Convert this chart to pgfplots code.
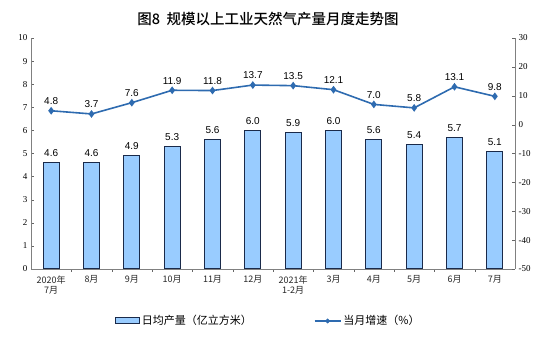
\documentclass[border=0pt]{standalone}
\usepackage{pgfplots}
\pgfplotsset{compat=1.18}
\usepackage{fontspec}
\setmainfont{Liberation Serif}
\newfontfamily\cjk{Noto Sans CJK SC}
\newfontfamily\cjkb{Noto Sans CJK SC Medium}
\newfontfamily\arial{Liberation Sans}
\definecolor{barfill}{HTML}{99CCFF}
\definecolor{bardraw}{HTML}{1A2A4A}
\definecolor{linec}{HTML}{2E6BB0}
\begin{document}
\begin{tikzpicture}[x=1pt,y=1pt]
\path[use as bounding box] (0,0) rectangle (554,353);
\node[font=\cjkb\fontsize{14.5}{16}\selectfont] at (268,334) {图8\ \ 规模以上工业天然气产量月度走势图};
\begin{axis}[at={(31pt,84pt)}, anchor=south west, scale only axis,
  width=484pt, height=231pt,
  xmin=-0.5, xmax=11.5, ymin=0, ymax=10,
  ytick={0,1,...,10},
  xtick={0,...,11},
  xticklabels={{2020年\\7月},8月,9月,10月,11月,12月,{2021年\\1-2月},3月,4月,5月,6月,7月},
  xticklabel style={font=\cjk\fontsize{9}{10.5}\selectfont, align=center, text=black!85},
  yticklabel style={font=\fontsize{9}{10}\selectfont},
  /pgf/number format/assume math mode=true,
  major x tick style={draw=none},
  minor xtick={0.5,1.5,...,10.5},
  minor tick length=3pt,
  minor x tick style={black!60},
  xtick align=outside,
  ytick align=inside,
  major tick length=3pt,
  axis y line*=left, axis x line*=bottom,
  axis line style={black!50},
  y tick style={black!60},
  legend style={at={(0.49,-0.225)}, anchor=center, draw=none, legend columns=2,
    font=\cjk\fontsize{11}{12}\selectfont, /tikz/every even column/.append style={column sep=60pt}},
  legend image code/.code={\draw[#1] (0pt,-3pt) rectangle (24pt,3pt);},
]
\addplot[ybar, bar width=16pt, fill=barfill, draw=bardraw, line width=1pt,
  nodes near coords, point meta=explicit symbolic,
  every node near coord/.append style={font=\arial\fontsize{10}{11}\selectfont, text=black, yshift=2pt}]
  table[meta=l] {
  x y l
  0 4.6 4.6
  1 4.6 4.6
  2 4.9 4.9
  3 5.3 5.3
  4 5.6 5.6
  5 6.0 6.0
  6 5.9 5.9
  7 6.0 6.0
  8 5.6 5.6
  9 5.4 5.4
  10 5.7 5.7
  11 5.1 5.1
  };
\addlegendentry{日均产量（亿立方米）}
\addlegendimage{legend image code/.code={\draw[linec, line width=1.6pt] (0pt,0pt) -- (26pt,0pt); \fill[linec] (13pt,0pt) +(0,2.2pt) -- +(2.2pt,0) -- +(0,-2.2pt) -- +(-2.2pt,0) -- cycle;}}
\addlegendentry{当月增速（\%）}
\end{axis}
\begin{axis}[at={(31pt,84pt)}, anchor=south west, scale only axis,
  width=484pt, height=231pt,
  xmin=-0.5, xmax=11.5, ymin=-50, ymax=30,
  ytick={-50,-40,...,30},
  axis y line*=right, axis x line=none,
  axis line style={black!50},
  y tick style={black!60},
  ytick align=inside, major tick length=3pt,
  /pgf/number format/assume math mode=true,
  yticklabel style={font=\fontsize{9}{10}\selectfont},
]
\addplot[linec, line width=1.6pt, mark=diamond*, mark size=2.6pt,
  mark options={fill=linec, draw=linec},
  nodes near coords, point meta=explicit symbolic,
  every node near coord/.append style={font=\arial\fontsize{10}{11}\selectfont, text=black, yshift=2pt}]
  table[meta=l] {
  x y l
  0 4.8 4.8
  1 3.7 3.7
  2 7.6 7.6
  3 11.9 11.9
  4 11.8 11.8
  5 13.7 13.7
  6 13.5 13.5
  7 12.1 12.1
  8 7.0 7.0
  9 5.8 5.8
  10 13.1 13.1
  11 9.8 9.8
  };
\end{axis}
\end{tikzpicture}
\end{document}
